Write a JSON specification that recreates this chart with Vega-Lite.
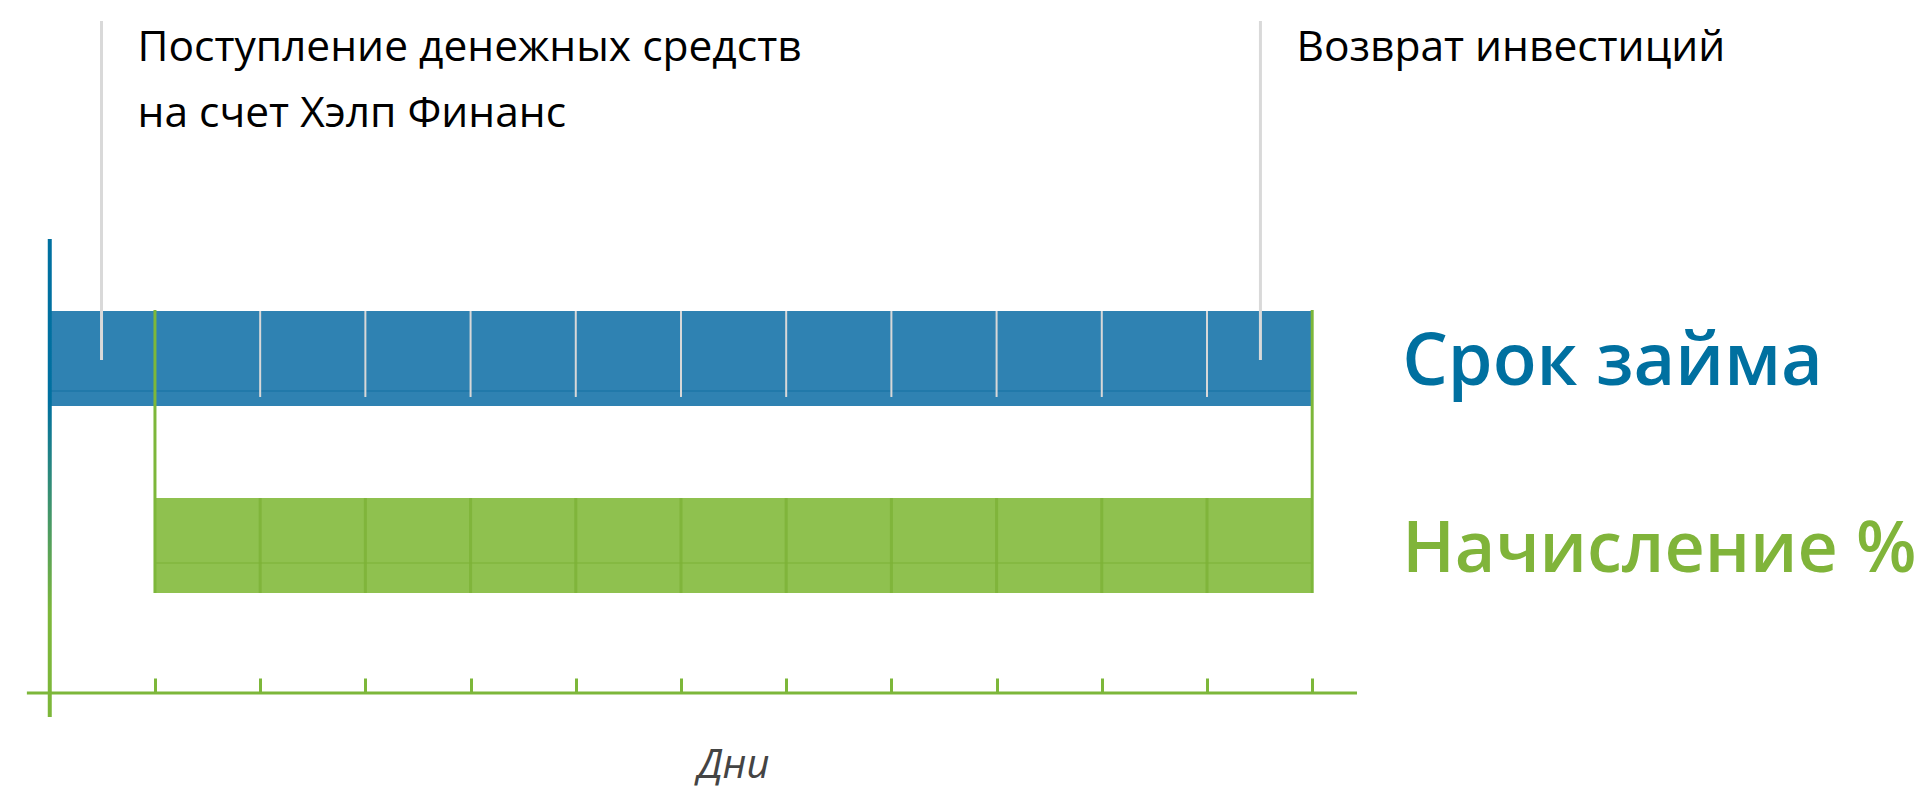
{
  "$schema": "https://vega.github.io/schema/vega-lite/v6.json",
  "width": 1926,
  "height": 790,
  "autosize": {"type": "none"},
  "padding": 0,
  "background": "white",
  "config": {
    "view": {"stroke": null}
  },
  "datasets": {
    "lanes": [
      {"lane": "Срок займа", "start": 0, "end": 12, "top": 6.063, "bottom": 4.861, "seam": 5.051},
      {"lane": "Начисление %", "start": 1, "end": 12, "top": 3.696, "bottom": 2.494, "seam": 2.873}
    ],
    "days": [
      {"day": 1}, {"day": 2}, {"day": 3}, {"day": 4}, {"day": 5}, {"day": 6},
      {"day": 7}, {"day": 8}, {"day": 9}, {"day": 10}, {"day": 11}, {"day": 12}
    ],
    "events": [
      {"day": 0.492, "label": "Поступление денежных средств\nна счет Хэлп Финанс"},
      {"day": 11.508, "label": "Возврат инвестиций"}
    ]
  },
  "layer": [
    {
      "data": {"name": "lanes"},
      "mark": {"type": "bar", "opacity": 1},
      "encoding": {
        "x": {
          "field": "start", "type": "quantitative",
          "scale": {"domain": [-0.4255, 17.787], "nice": false, "zero": false},
          "axis": {
            "orient": "bottom",
            "offset": -97,
            "domain": false,
            "grid": false,
            "labels": false,
            "values": [1, 2, 3, 4, 5, 6, 7, 8, 9, 10, 11, 12],
            "tickColor": "#7db73a",
            "tickWidth": 3,
            "tickSize": -15,
            "title": "Дни",
            "titleFont": "Open Sans",
            "titleFontStyle": "italic",
            "titleFontWeight": "normal",
            "titleFontSize": 40,
            "titleColor": "#444444",
            "titleX": 733,
            "titleY": 84,
            "titleAlign": "center",
            "titleBaseline": "alphabetic"
          }
        },
        "x2": {"field": "end"},
        "y": {"field": "top", "type": "quantitative", "scale": {"domain": [0, 10], "nice": false, "zero": false}, "axis": null},
        "y2": {"field": "bottom"},
        "color": {"field": "lane", "type": "nominal", "scale": {"domain": ["Срок займа", "Начисление %"], "range": ["#2f82b2", "#8fc14f"]}, "legend": null}
      }
    },
    {
      "data": {"name": "lanes"},
      "mark": {"type": "rule", "strokeWidth": 2, "opacity": 0.35},
      "encoding": {
        "x": {"field": "start", "type": "quantitative"},
        "x2": {"field": "end"},
        "y": {"field": "seam", "type": "quantitative"},
        "color": {"field": "lane", "type": "nominal", "scale": {"domain": ["Срок займа", "Начисление %"], "range": ["#0a6a9c", "#74ab2c"]}, "legend": null}
      }
    },
    {
      "data": {"name": "days"},
      "transform": [{"filter": "datum.day >= 2 && datum.day <= 11"}],
      "mark": {"type": "rule", "strokeWidth": 2, "color": "#d8d8d8"},
      "encoding": {
        "x": {"field": "day", "type": "quantitative"},
        "y": {"datum": 6.063, "type": "quantitative"},
        "y2": {"datum": 4.975}
      }
    },
    {
      "data": {"name": "days"},
      "transform": [{"filter": "datum.day >= 2 && datum.day <= 11"}],
      "mark": {"type": "rule", "strokeWidth": 3, "color": "#7cb236", "opacity": 0.8},
      "encoding": {
        "x": {"field": "day", "type": "quantitative"},
        "y": {"datum": 3.696, "type": "quantitative"},
        "y2": {"datum": 2.494}
      }
    },
    {
      "data": {"name": "events"},
      "mark": {"type": "rule", "strokeWidth": 3, "color": "#d9d9d9"},
      "encoding": {
        "x": {"field": "day", "type": "quantitative"},
        "y": {"datum": 9.734, "type": "quantitative"},
        "y2": {"datum": 5.443}
      }
    },
    {
      "data": {"name": "days"},
      "transform": [{"filter": "datum.day == 1 || datum.day == 12"}],
      "mark": {"type": "rule", "strokeWidth": 3, "color": "#7db73a"},
      "encoding": {
        "x": {"field": "day", "type": "quantitative"},
        "y": {"datum": 6.076, "type": "quantitative"},
        "y2": {"datum": 2.494}
      }
    },
    {
      "data": {"values": [{"axis": "x"}]},
      "mark": {"type": "rule", "strokeWidth": 3, "color": "#7db73a"},
      "encoding": {
        "x": {"datum": -0.2175, "type": "quantitative"},
        "x2": {"datum": 12.426},
        "y": {"datum": 1.228, "type": "quantitative"}
      }
    },
    {
      "data": {"values": [{"axis": "y"}]},
      "mark": {
        "type": "bar",
        "size": 4,
        "fill": {
          "gradient": "linear",
          "x1": 0, "y1": 0, "x2": 0, "y2": 1,
          "stops": [
            {"offset": 0, "color": "#0070a0"},
            {"offset": 0.34, "color": "#0070a0"},
            {"offset": 0.78, "color": "#7db73a"},
            {"offset": 1, "color": "#7db73a"}
          ]
        }
      },
      "encoding": {
        "x": {"datum": 0, "type": "quantitative"},
        "y": {"datum": 6.975, "type": "quantitative"},
        "y2": {"datum": 0.924}
      }
    },
    {
      "data": {"name": "events"},
      "mark": {"type": "text", "font": "Open Sans", "fontSize": 42.5, "align": "left", "baseline": "alphabetic", "dx": 36, "lineBreak": "\n", "lineHeight": 66, "color": "#000000"},
      "encoding": {
        "x": {"field": "day", "type": "quantitative"},
        "y": {"datum": 9.228, "type": "quantitative"},
        "text": {"field": "label"}
      }
    },
    {
      "data": {"name": "lanes"},
      "transform": [{"filter": "datum.lane == 'Срок займа'"}],
      "mark": {"type": "text", "font": "Open Sans", "fontSize": 72, "fontWeight": 600, "align": "left", "baseline": "alphabetic", "dx": 90, "dy": 74, "color": "#0070a0"},
      "encoding": {
        "x": {"field": "end", "type": "quantitative"},
        "y": {"field": "top", "type": "quantitative"},
        "text": {"field": "lane"}
      }
    },
    {
      "data": {"name": "lanes"},
      "transform": [{"filter": "datum.lane == 'Начисление %'"}],
      "mark": {"type": "text", "font": "Open Sans", "fontSize": 70, "fontWeight": 600, "align": "left", "baseline": "alphabetic", "dx": 90, "dy": 74, "color": "#80b43a"},
      "encoding": {
        "x": {"field": "end", "type": "quantitative"},
        "y": {"field": "top", "type": "quantitative"},
        "text": {"field": "lane"}
      }
    }
  ],
  "resolve": {"scale": {"color": "independent"}}
}
